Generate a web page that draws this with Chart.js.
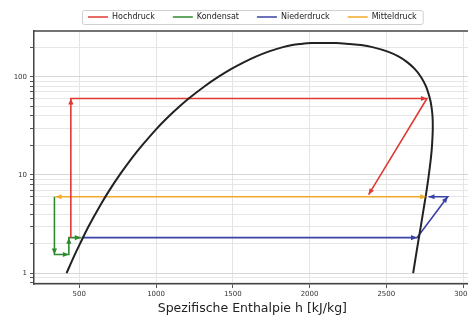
<!DOCTYPE html>
<html>
<head>
<meta charset="utf-8">
<script src="https://cdn.jsdelivr.net/npm/chart.js@4.4.1/dist/chart.umd.min.js"></script>
<style>
  html, body { margin: 0; padding: 0; background: #fff; overflow: hidden; }
  #wrap { width: 474px; height: 315px; }
</style>
</head>
<body>
<div id="wrap"><canvas id="chart" width="474" height="315"></canvas></div>
<script>
// saturation dome (h in kJ/kg, p in bar)
const domeH = [417, 467, 505, 561, 640, 697, 763, 845, 909, 1008, 1087, 1154, 1213, 1317, 1408, 1491, 1571, 1650, 1732, 1827, 1888, 1940, 2011, 2084,
               2173, 2260, 2336, 2410, 2510, 2582, 2638, 2685, 2725, 2758, 2784, 2794, 2801, 2803, 2798, 2791, 2777, 2763, 2748, 2725, 2706, 2693, 2675];
const domeP = [1, 1.5, 2, 3, 5, 7, 10, 15, 20, 30, 40, 50, 60, 80, 100, 120, 140, 160, 180, 200, 210, 215, 220, 220.6,
               220, 215, 210, 200, 180, 160, 140, 120, 100, 80, 60, 50, 40, 30, 20, 15, 10, 7, 5, 3, 2, 1.5, 1];

// cycle paths
const hochdruckH = [445, 445, 2765, 2385];
const hochdruckP = [2.3, 60, 60, 6.3];
const kondensatH = [338, 338, 432, 432, 510];
const kondensatP = [6, 1.55, 1.55, 2.3, 2.3];
const niederdruckH = [515, 2700, 2900, 2775];
const niederdruckP = [2.3, 2.3, 6, 6];
const mitteldruckH = [2760, 345];
const mitteldruckP = [6, 6];

const xTicks = [500, 1000, 1500, 2000, 2500, 3000];
const yTicks = [0.8, 0.9, 1, 2, 3, 4, 5, 6, 7, 8, 9, 10, 20, 30, 40, 50, 60, 70, 80, 90, 100, 200];
const yLabels = [1, 10, 100];

const pts = (xs, ys) => xs.map((x, i) => ({ x: x, y: ys[i] }));

function drawHead(ctx, a, b) {
  const ang = Math.atan2(b.y - a.y, b.x - a.x);
  ctx.save();
  ctx.translate(b.x, b.y);
  ctx.rotate(ang);
  ctx.beginPath();
  ctx.moveTo(0, 0);
  ctx.lineTo(-6, -2.6);
  ctx.lineTo(-6, 2.6);
  ctx.closePath();
  ctx.fill();
  ctx.restore();
}

const arrows = {
  id: 'arrows',
  afterDatasetsDraw(chart) {
    const ctx = chart.ctx;
    chart.data.datasets.forEach((ds, i) => {
      if (!ds.arrows) return;
      const p = chart.getDatasetMeta(i).data;
      ctx.save();
      ctx.fillStyle = ds.borderColor;
      for (let k = 1; k < p.length; k++) drawHead(ctx, p[k - 1], p[k]);
      if (ds.arrowStart) drawHead(ctx, p[1], p[0]);
      ctx.restore();
    });
  }
};

const frame = {
  id: 'frame',
  beforeLayout(chart) {
    const lg = chart.legend;
    if (lg && !lg._patched) {
      const fit = lg.fit;
      lg.fit = function () { fit.call(this); this.height = 31; };
      lg._patched = true;
    }
  },
  afterLayout(chart) {
    chart.legend.top -= 5;
    chart.legend.bottom -= 5;
  },
  beforeDatasetsDraw(chart) {
    const { ctx, chartArea } = chart;
    ctx.save();
    ctx.strokeStyle = '#444';
    ctx.lineWidth = 1.5;
    ctx.beginPath();
    ctx.moveTo(chartArea.left, chartArea.top);
    ctx.lineTo(chartArea.right, chartArea.top);
    ctx.stroke();
    ctx.restore();
  },
  afterDraw(chart) {
    const hb = chart.legend.legendHitBoxes;
    if (!hb || !hb.length) return;
    const ctx = chart.ctx;
    const l = hb[0].left - 6;
    const r = hb[hb.length - 1].left + hb[hb.length - 1].width + 6;
    ctx.save();
    ctx.strokeStyle = '#d0d0d0';
    ctx.lineWidth = 1;
    ctx.beginPath();
    ctx.roundRect(l + 0.5, 10.5, r - l, 14, 2);
    ctx.stroke();
    ctx.restore();
  }
};

Chart.defaults.font.family = '"DejaVu Sans", sans-serif';
Chart.defaults.color = '#333';

new Chart(document.getElementById('chart'), {
  type: 'scatter',
  data: {
    datasets: [
      { label: 'Sättigung', data: pts(domeH, domeP), borderColor: '#222', borderWidth: 2, tension: 0.3 },
      { label: 'Hochdruck', data: pts(hochdruckH, hochdruckP), borderColor: '#e03a35', arrows: true },
      { label: 'Kondensat', data: pts(kondensatH, kondensatP), borderColor: '#2f8a2f', arrows: true },
      { label: 'Niederdruck', data: pts(niederdruckH, niederdruckP), borderColor: '#3b42a6', arrows: true },
      { label: 'Mitteldruck', data: pts(mitteldruckH, mitteldruckP), borderColor: '#f2aa2a', arrows: true, arrowStart: true }
    ].map(d => Object.assign({ showLine: true, pointRadius: 0, borderWidth: 1.6, fill: false, backgroundColor: d.borderColor }, d))
  },
  options: {
    responsive: false,
    animation: false,
    layout: { padding: { top: 0, right: 2, bottom: 0, left: 0 } },
    plugins: {
      legend: {
        position: 'top',
        fullSize: false,
        labels: {
          filter: item => item.datasetIndex > 0,
          usePointStyle: true,
          pointStyle: 'line',
          pointStyleWidth: 20,
          padding: 18,
          color: '#222',
          font: { size: 8 }
        }
      },
      tooltip: { enabled: false }
    },
    scales: {
      x: {
        type: 'linear',
        min: 205,
        max: 3050,
        afterBuildTicks: s => { s.ticks = xTicks.map(v => ({ value: v })); },
        ticks: { font: { size: 7 }, padding: 2, maxRotation: 0, color: '#333', callback: v => String(v) },
        grid: { color: '#e4e4e4', tickColor: '#555', tickLength: 4 },
        border: { color: '#444', width: 1.5 },
        title: {
          display: true,
          text: 'Spezifische Enthalpie h [kJ/kg]',
          color: '#222',
          font: { size: 12.5, lineHeight: 1 },
          padding: { top: 2, bottom: 0 }
        }
      },
      y: {
        type: 'logarithmic',
        min: 0.774,
        max: 292,
        afterBuildTicks: s => { s.ticks = yTicks.map(v => ({ value: v })); },
        afterFit: s => { s.width = 34; },
        ticks: {
          font: { size: 7 },
          padding: 3,
          color: '#333',
          autoSkip: false,
          callback: v => yLabels.includes(v) ? String(v) : ''
        },
        grid: {
          color: c => yLabels.includes(c.tick && c.tick.value) ? '#d6d6d6' : '#e6e6e6',
          tickColor: '#555',
          tickLength: 4
        },
        border: { color: '#444', width: 1.5 }
      }
    }
  },
  plugins: [arrows, frame]
});
</script>
</body>
</html>
